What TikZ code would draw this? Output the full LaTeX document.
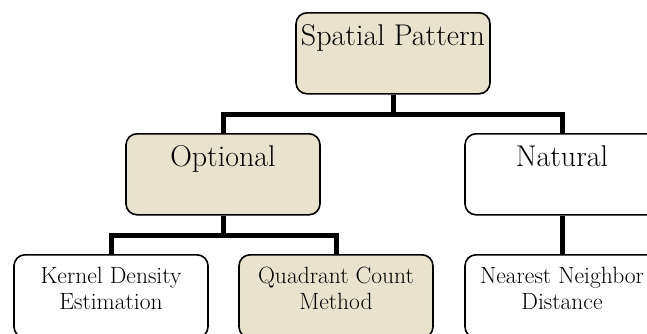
\documentclass[tikz,border=0pt]{standalone}
\definecolor{boxtan}{RGB}{233,227,205}
\tikzset{
    catbox/.style={draw, line width=1.6pt, rounded corners=11pt, minimum width=194pt,
        inner sep=0pt, align=center, anchor=north, font=\fontsize{30}{34}\selectfont,
        text height=33pt, text depth=48pt},
    methodbox/.style={catbox, font=\fontsize{23.5}{26}\selectfont,
        text height=55pt, text depth=28pt},
    tree/.style={line width=5pt}
}
\begin{document}
\begin{tikzpicture}[x=1pt, y=-1pt]
        \useasboundingbox (0,0) rectangle (647,333);
        \clip (0,0) rectangle (647,333);
        \begin{scope}
            \node[catbox, fill=boxtan] (pattern) at (393,12) {Spatial Pattern};
            \node[catbox, fill=boxtan] (optional) at (223,133) {Optional};
            \node[catbox, fill=white] (natural) at (562,133) {Natural};
            \node[methodbox, fill=white] (kernel) at (111,254) {Kernel Density\\Estimation};
            \node[methodbox, fill=boxtan] (quadrant) at (336,254) {Quadrant Count\\Method};
            \node[methodbox, fill=white] (nearest) at (562,254) {Nearest Neighbor\\Distance};
        \end{scope}
        \begin{scope}
            \draw[tree] (pattern.south) -- ++(0,20) -| (optional.north);
            \draw[tree] (pattern.south) -- ++(0,20) -| (natural.north);
            \draw[tree] (optional.south) -- ++(0,20) -| (kernel.north);
            \draw[tree] (optional.south) -- ++(0,20) -| (quadrant.north);
            \draw[tree] (natural.south) -- (nearest.north);
        \end{scope}
    \end{tikzpicture}
\end{document}
